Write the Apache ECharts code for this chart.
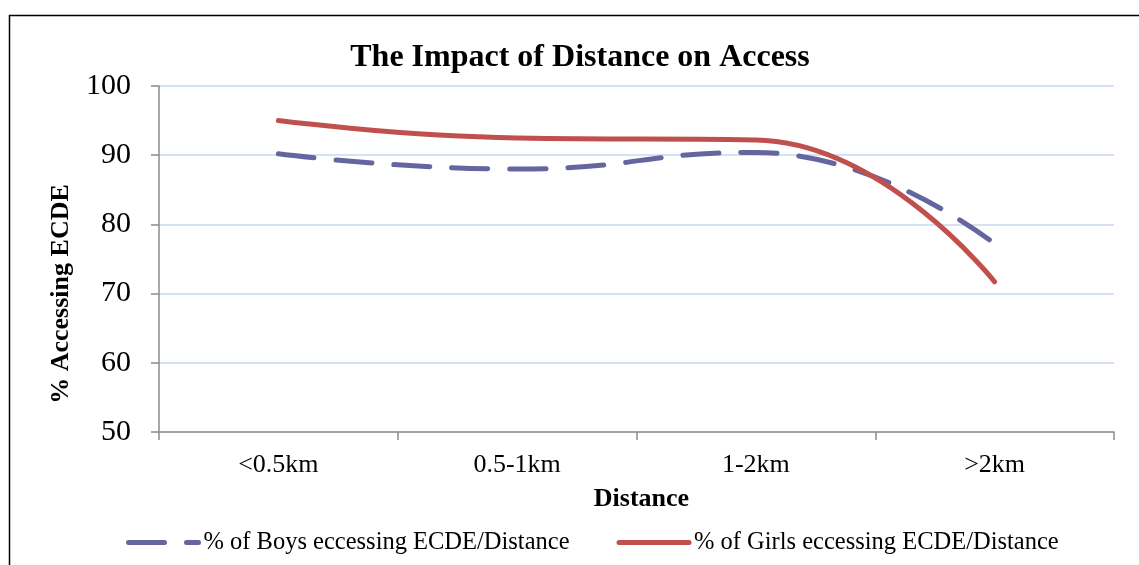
<!DOCTYPE html>
<html>
<head>
<meta charset="utf-8">
<script src="https://cdn.jsdelivr.net/npm/echarts@6/dist/echarts.min.js"></script>
<style>
html,body{margin:0;padding:0;background:#fff;}
#chart{width:1139px;height:565px;}
</style>
</head>
<body>
<div id="chart"></div>
<script>
const categories = ['<0.5km', '0.5-1km', '1-2km', '>2km'];
const boysValues = [90.2, 88.0, 90.4, 77.2];
const girlsValues = [95.0, 92.5, 92.2, 71.7];
const yTicks = { min: 50, max: 100, interval: 10 };
const titleText = 'The Impact of Distance on Access';
const xAxisName = 'Distance';
const yAxisName = '% Accessing ECDE';
const boysName = '% of Boys eccessing ECDE/Distance';
const girlsName = '% of Girls eccessing ECDE/Distance';

const serif = '"Liberation Serif", "Times New Roman", serif';
const chart = echarts.init(document.getElementById('chart'), null, { renderer: 'canvas' });
chart.setOption({
  animation: false,
  backgroundColor: '#fff',
  graphic: [
    {
      type: 'rect',
      shape: { x: 9.5, y: 15.5, width: 1200, height: 700 },
      style: { fill: 'none', stroke: '#000', lineWidth: 1.5 },
      z: 100
    },
    {
      type: 'text',
      x: 61,
      y: 294,
      rotation: Math.PI / 2,
      style: {
        text: yAxisName,
        fontFamily: serif,
        fontWeight: 'bold',
        fontSize: 26,
        fill: '#000',
        textAlign: 'center',
        textVerticalAlign: 'middle'
      }
    }
  ],
  title: {
    text: titleText,
    left: 575,
    textAlign: 'center',
    top: 37,
    textStyle: { fontFamily: serif, fontWeight: 'bold', fontSize: 32, color: '#000' }
  },
  grid: { left: 159, right: 25, top: 86, bottom: 133 },
  legend: {
    left: 121,
    top: 525,
    itemWidth: 70,
    itemHeight: 14,
    itemGap: 47,
    textStyle: { fontFamily: serif, fontSize: 24.5, color: '#000' },
    itemStyle: { color: 'rgba(0,0,0,0)', borderWidth: 0, opacity: 0 },
    lineStyle: { width: 5, cap: 'round' },
    data: [boysName, girlsName]
  },
  xAxis: {
    type: 'category',
    data: categories,
    boundaryGap: true,
    name: xAxisName,
    nameLocation: 'middle',
    nameGap: 54,
    nameTextStyle: { fontFamily: serif, fontWeight: 'bold', fontSize: 26, color: '#000', padding: [0, 0, 0, 10] },
    axisLine: { lineStyle: { color: '#8c8c8c', width: 1.5 } },
    axisTick: { show: true, length: 8, lineStyle: { color: '#8c8c8c', width: 1.5 } },
    axisLabel: { fontFamily: serif, fontSize: 26, color: '#000', margin: 20 },
    splitLine: { show: false }
  },
  yAxis: {
    type: 'value',
    min: yTicks.min,
    max: yTicks.max,
    interval: yTicks.interval,
    axisLine: { show: true, lineStyle: { color: '#8c8c8c', width: 1.5 } },
    axisTick: { show: true, length: 8, lineStyle: { color: '#8c8c8c', width: 1.5 } },
    axisLabel: { fontFamily: serif, fontSize: 30, color: '#000', margin: 28 },
    splitLine: { show: true, lineStyle: { color: '#C6D9F1', width: 1.5 } }
  },
  series: [
    {
      name: boysName,
      type: 'line',
      data: boysValues,
      smooth: 0.5,
      symbol: 'none',
      color: '#65669F',
      lineStyle: { color: '#65669F', width: 5, type: [36, 22], cap: 'round' }
    },
    {
      name: girlsName,
      type: 'line',
      data: girlsValues,
      smooth: 0.5,
      symbol: 'none',
      color: '#C0504D',
      lineStyle: { color: '#C0504D', width: 5, cap: 'round' }
    }
  ]
});
</script>
</body>
</html>
